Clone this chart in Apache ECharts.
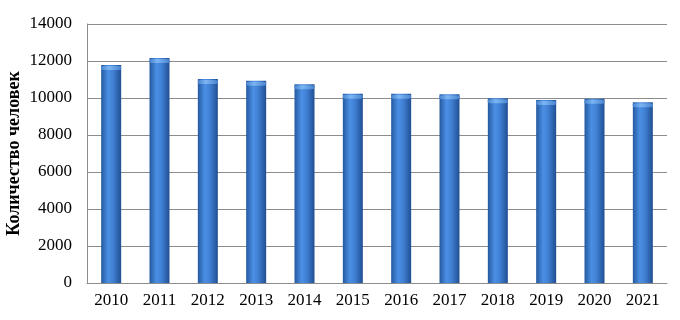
<!DOCTYPE html>
<html><head><meta charset="utf-8">
<script src="https://cdn.jsdelivr.net/npm/echarts@6/dist/echarts.min.js"></script>
<style>html,body{margin:0;padding:0;background:#fff}#c{width:680px;height:320px}</style>
</head><body><div id="c"></div>
<script>
const years = ['2010','2011','2012','2013','2014','2015','2016','2017','2018','2019','2020','2021'];
const people = [11780, 12160, 11030, 10930, 10740, 10230, 10230, 10200, 9980, 9890, 9960, 9770];
const yTicks = {min: 0, max: 14000, step: 2000};
const yTitle = 'Количество человек';

const chart = echarts.init(document.getElementById('c'), null, {renderer: 'canvas'});
const font = '"Liberation Serif","Times New Roman",serif';
chart.setOption({
  animation: false,
  grid: {left: 87, right: 13, top: 24, bottom: 37, outerBoundsMode: 'none', containLabel: false},
  xAxis: {
    type: 'category', data: years,
    axisLine: {lineStyle: {color: '#8c8c8c', width: 1}},
    axisTick: {show: false},
    axisLabel: {color: '#000', fontFamily: font, fontSize: 17, margin: 9}
  },
  yAxis: {
    type: 'value', min: yTicks.min, max: yTicks.max, interval: yTicks.step,
    name: yTitle, nameLocation: 'middle', nameGap: 64, nameRotate: 90,
    nameMoveOverlap: false,
    nameTextStyle: {color: '#000', fontFamily: font, fontSize: 18, fontWeight: 'bold'},
    axisLine: {show: true, lineStyle: {color: '#8c8c8c', width: 1}},
    axisTick: {show: false},
    axisLabel: {color: '#000', fontFamily: font, fontSize: 17, margin: 15,
      formatter: v => String(v)},
    splitLine: {lineStyle: {color: '#8c8c8c', width: 1}}
  },
  series: [{
    type: 'bar', data: people, barWidth: 20,
    itemStyle: {
      color: new echarts.graphic.LinearGradient(0, 0, 1, 0, [
        {offset: 0, color: '#24599f'},
        {offset: 0.35, color: '#4b8fe4'},
        {offset: 0.6, color: '#4080d4'},
        {offset: 1, color: '#214f92'}
      ])
    }
  }, {
    type: 'pictorialBar', data: people, symbol: 'roundRect',
    symbolSize: [20, 4], symbolPosition: 'end', symbolOffset: [0, 1],
    z: 3,
    itemStyle: {color: new echarts.graphic.LinearGradient(0, 0, 1, 0, [
      {offset: 0, color: '#4a84d0'},
      {offset: 0.4, color: '#7cb6f2'},
      {offset: 1, color: '#4a84d0'}
    ])}
  }]
});
</script></body></html>
